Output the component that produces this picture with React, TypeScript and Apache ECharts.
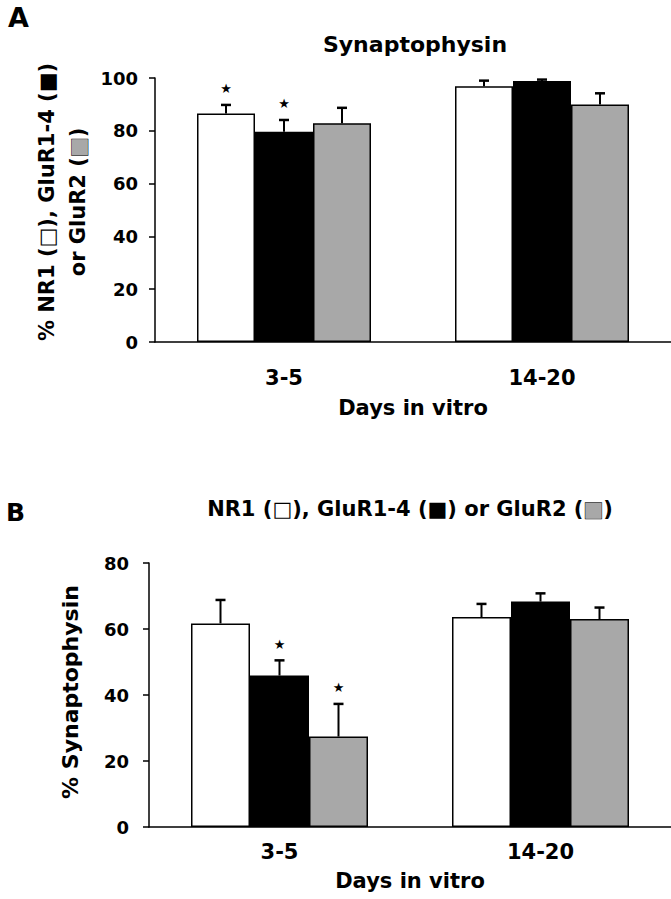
import React, { useEffect, useRef } from 'react';
import * as echarts from 'echarts';

// ---------- data ----------
const categories = ['3-5', '14-20'];
const seriesNames = ['NR1', 'GluR1-4', 'GluR2'];

// Panel A: % NR1 / GluR1-4 / GluR2 colocalized with synaptophysin
const aNR1 = [86.6, 96.9];
const aNR1Err = [3.2, 2.1];
const aGluR14 = [79.6, 98.9];
const aGluR14Err = [4.5, 0.5];
const aGluR2 = [82.9, 90.0];
const aGluR2Err = [5.8, 4.2];
const aSig = [[1, 0], [1, 0], [0, 0]];
const aTicks = [0, 20, 40, 60, 80, 100];

// Panel B: % synaptophysin colocalized with NR1 / GluR1-4 / GluR2
const bNR1 = [61.7, 63.6];
const bNR1Err = [7.1, 4.0];
const bGluR14 = [45.9, 68.3];
const bGluR14Err = [4.6, 2.5];
const bGluR2 = [27.4, 63.0];
const bGluR2Err = [9.9, 3.5];
const bSig = [[0, 0], [1, 0], [1, 0]];
const bTicks = [0, 20, 40, 60, 80];

// ---------- styling ----------
const FONT = 'DejaVu Sans';
const FILLS = ['#ffffff', '#000000', '#a8a8a8'];
const BAR_W_A = 58;
const BAR_W_B = 59;

function makeErrData(means: number[][], errs: number[][], sig: number[][]) {
  const out: number[][] = [];
  for (let s = 0; s < means.length; s++) {
    for (let c = 0; c < categories.length; c++) {
      out.push([c, s, means[s][c], errs[s][c], sig[s][c]]);
    }
  }
  return out;
}

function errRenderer(barW: number) {
  return (params: any, api: any) => {
    const c = api.value(0);
    const s = api.value(1);
    const m = api.value(2);
    const e = api.value(3);
    const sig = api.value(4);
    const x = api.coord([c, 0])[0] + (s - 1) * barW;
    const y0 = api.coord([c, m])[1];
    const y1 = api.coord([c, m + e])[1];
    const children: any[] = [
      { type: 'line', shape: { x1: x, y1: y0, x2: x, y2: y1 }, style: { stroke: '#000', lineWidth: 2 } },
      { type: 'line', shape: { x1: x - 5, y1: y1, x2: x + 5, y2: y1 }, style: { stroke: '#000', lineWidth: 2.5 } },
    ];
    if (sig) {
      children.push({
        type: 'text',
        style: {
          text: '★', x: x, y: y1 - 16, align: 'center', verticalAlign: 'middle',
          fontSize: 13, fontFamily: FONT, fill: '#000',
        },
      });
    }
    return { type: 'group', children };
  };
}

function barSeries(name: string, data: number[], idx: number, axisIdx: number, barW: number) {
  return {
    type: 'bar',
    name,
    xAxisIndex: axisIdx,
    yAxisIndex: axisIdx,
    data,
    barWidth: barW,
    barGap: '0%',
    itemStyle: { color: FILLS[idx], borderColor: '#000', borderWidth: 1.5 },
    z: 2,
  };
}

const axisText = { fontFamily: FONT, fontWeight: 'bold' as const, color: '#000' };

function yAxisCfg(ticks: number[], idx: number, margin: number) {
  return {
    type: 'value',
    gridIndex: idx,
    min: ticks[0],
    max: ticks[ticks.length - 1],
    interval: ticks[1] - ticks[0],
    splitLine: { show: false },
    axisLine: { show: true, lineStyle: { color: '#000', width: 1.5 } },
    axisTick: { show: true, inside: false, length: 6, lineStyle: { color: '#000', width: 1.5 } },
    axisLabel: { ...axisText, fontSize: 18, margin },
  };
}

function xAxisCfg(idx: number, labelMargin: number, nameGap: number) {
  return {
    type: 'category',
    gridIndex: idx,
    data: categories,
    axisLine: { show: true, lineStyle: { color: '#000', width: 1.5 } },
    axisTick: { show: false },
    axisLabel: { ...axisText, fontSize: 21, margin: labelMargin },
    name: 'Days in vitro',
    nameLocation: 'middle',
    nameGap,
    nameTextStyle: { ...axisText, fontSize: 21 },
  };
}

const richSquares = {
  w: { fontFamily: FONT, fontWeight: 'bold', fontSize: 21, fill: '#000' },
  b: { fontFamily: FONT, fontWeight: 'bold', fontSize: 21, fill: '#000' },
  g: { fontFamily: FONT, fontWeight: 'bold', fontSize: 21, fill: '#a8a8a8', stroke: '#000', lineWidth: 1 },
};

export default function App() {
  const ref = useRef<HTMLDivElement>(null);
  useEffect(() => {
    if (!ref.current) return;
    const chart = echarts.init(ref.current, undefined, { renderer: 'svg' });
    const option: any = {
      animation: false,
      backgroundColor: '#ffffff',
      grid: [
        { left: 155, right: 0, top: 78, height: 264 },
        { left: 149, right: 0, top: 563, height: 264 },
      ],
      xAxis: [xAxisCfg(0, 25, 55), xAxisCfg(1, 14, 43)],
      yAxis: [yAxisCfg(aTicks, 0, 17), yAxisCfg(bTicks, 1, 20)],
      series: [
        barSeries(seriesNames[0], aNR1, 0, 0, BAR_W_A),
        barSeries(seriesNames[1], aGluR14, 1, 0, BAR_W_A),
        barSeries(seriesNames[2], aGluR2, 2, 0, BAR_W_A),
        {
          type: 'custom',
          xAxisIndex: 0,
          yAxisIndex: 0,
          encode: { x: 0, y: 2 },
          data: makeErrData([aNR1, aGluR14, aGluR2], [aNR1Err, aGluR14Err, aGluR2Err], aSig),
          renderItem: errRenderer(BAR_W_A),
          z: 5,
        },
        barSeries(seriesNames[0], bNR1, 0, 1, BAR_W_B),
        barSeries(seriesNames[1], bGluR14, 1, 1, BAR_W_B),
        barSeries(seriesNames[2], bGluR2, 2, 1, BAR_W_B),
        {
          type: 'custom',
          xAxisIndex: 1,
          yAxisIndex: 1,
          encode: { x: 0, y: 2 },
          data: makeErrData([bNR1, bGluR14, bGluR2], [bNR1Err, bGluR14Err, bGluR2Err], bSig),
          renderItem: errRenderer(BAR_W_B),
          z: 5,
        },
      ],
      graphic: [
        { type: 'text', x: 8, y: 4, style: { text: 'A', fontFamily: FONT, fontWeight: 'bold', fontSize: 27, fill: '#000', verticalAlign: 'top' } },
        { type: 'text', x: 415, y: 44, style: { text: 'Synaptophysin', fontFamily: FONT, fontWeight: 'bold', fontSize: 22, fill: '#000', align: 'center', verticalAlign: 'middle' } },
        {
          type: 'text', x: 47, y: 202, rotation: Math.PI / 2,
          style: {
            text: '% NR1 ({w|□}), GluR1-4 ({b|■})', rich: richSquares,
            fontFamily: FONT, fontWeight: 'bold', fontSize: 21, fill: '#000', align: 'center', verticalAlign: 'middle',
          },
        },
        {
          type: 'text', x: 78, y: 202, rotation: Math.PI / 2,
          style: {
            text: 'or GluR2 ({g|■})', rich: richSquares,
            fontFamily: FONT, fontWeight: 'bold', fontSize: 21, fill: '#000', align: 'center', verticalAlign: 'middle',
          },
        },
        { type: 'text', x: 6, y: 500, style: { text: 'B', fontFamily: FONT, fontWeight: 'bold', fontSize: 25, fill: '#000', verticalAlign: 'top' } },
        {
          type: 'text', x: 410, y: 509,
          style: {
            text: 'NR1 ({w|□}), GluR1-4 ({b|■}) or GluR2 ({g|■})', rich: richSquares,
            fontFamily: FONT, fontWeight: 'bold', fontSize: 21, fill: '#000', align: 'center', verticalAlign: 'middle',
          },
        },
        {
          type: 'text', x: 70, y: 692, rotation: Math.PI / 2,
          style: {
            text: '% Synaptophysin', fontFamily: FONT, fontWeight: 'bold', fontSize: 22, fill: '#000',
            align: 'center', verticalAlign: 'middle',
          },
        },
      ],
    };
    chart.setOption(option);
    return () => chart.dispose();
  }, []);
  return (
    <div
      ref={ref}
      style={{ position: 'fixed', left: 0, top: 0, width: 671, height: 899, background: '#fff' }}
    />
  );
}
